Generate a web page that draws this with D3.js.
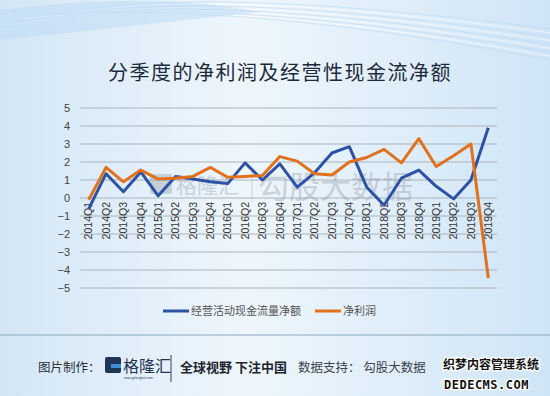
<!DOCTYPE html>
<html lang="zh">
<head>
<meta charset="UTF-8">
<title>分季度的净利润及经营性现金流净额</title>
<script src="https://d3js.org/d3.v7.min.js"></script>
<style>
  body { margin: 0; padding: 0; }
  svg text { font-family: "Noto Sans CJK SC", "Noto Sans", sans-serif; }
</style>
</head>
<body>
<div id="chart"></div>
<script>
// quarters on the category axis
const quarters = [
  "2014Q1", "2014Q2", "2014Q3", "2014Q4",
  "2015Q1", "2015Q2", "2015Q3", "2015Q4",
  "2016Q1", "2016Q2", "2016Q3", "2016Q4",
  "2017Q1", "2017Q2", "2017Q3", "2017Q4",
  "2018Q1", "2018Q2", "2018Q3", "2018Q4",
  "2019Q1", "2019Q2", "2019Q3", "2019Q4"
];
// 经营活动现金流量净额
const cashFlow = [
  -0.6, 1.35, 0.35, 1.45,
  0.12, 1.2, 1.05, 0.9,
  0.8, 1.95, 1.0, 1.9,
  0.6, 1.4, 2.5, 2.85,
  0.6, -0.4, 1.1, 1.55,
  0.65, -0.05, 1.0, 3.9
];
// 净利润
const netProfit = [
  -0.1, 1.7, 0.9, 1.55,
  1.05, 1.1, 1.2, 1.7,
  1.15, 1.2, 1.25, 2.3,
  2.05, 1.35, 1.28, 2.0,
  2.25, 2.7, 1.95, 3.3,
  1.75, 2.35, 3.0, -4.45
];
const yTicks = [5, 4, 3, 2, 1, 0, -1, -2, -3, -4, -5];

const W = 550, H = 396;
const svg = d3.select("#chart").append("svg")
  .attr("width", W).attr("height", H);

// background
const defs = svg.append("defs");
const bg = defs.append("linearGradient").attr("id", "bg")
  .attr("x1", "0").attr("y1", "0").attr("x2", "1").attr("y2", "0");
bg.append("stop").attr("offset", "0%").attr("stop-color", "#d3e6f6");
bg.append("stop").attr("offset", "45%").attr("stop-color", "#eef6fc");
bg.append("stop").attr("offset", "100%").attr("stop-color", "#cfe5f7");
svg.append("rect").attr("width", W).attr("height", H).attr("fill", "url(#bg)");

// decorative swooshes at the top
const swoosh = svg.append("g").attr("fill", "none");
for (let i = 0; i < 9; i++) {
  swoosh.append("path")
    .attr("d", `M${-20 + i * 6},${40 - i * 3} C${80 + i * 10},${-10 + i * 2} ${260 + i * 8},${-8 + i * 3} ${560},${30 + i * 4}`)
    .attr("stroke", i % 2 ? "#ffffff" : "#b9d8f2")
    .attr("stroke-width", 1)
    .attr("opacity", 0.6);
}
svg.append("path")
  .attr("d", "M0,10 C120,-5 200,0 260,12 L0,40 Z")
  .attr("fill", "#bcdaf3").attr("opacity", 0.5);

// title
svg.append("text")
  .attr("x", 280).attr("y", 80)
  .attr("text-anchor", "middle")
  .style("font-size", "20px")
  .style("letter-spacing", "1.5px")
  .style("fill", "#1d2a3a")
  .text("分季度的净利润及经营性现金流净额");

const margin = { left: 80, right: 53, top: 108, bottom: 108 };
const x = d3.scaleBand().domain(quarters).range([margin.left, W - margin.right]);
const y = d3.scaleLinear().domain([-5, 5]).range([288, 108]);

// gridlines
svg.append("g")
  .selectAll("line").data(yTicks).join("line")
  .attr("x1", margin.left).attr("x2", W - margin.right)
  .attr("y1", d => y(d)).attr("y2", d => y(d))
  .attr("stroke", "#aab3bc").attr("stroke-width", 1.2);

// y axis labels
const yAxis = svg.append("g")
  .attr("transform", `translate(${margin.left},0)`)
  .call(d3.axisLeft(y).tickValues(yTicks).tickSize(0).tickPadding(10).tickFormat(d3.format("d")));
yAxis.select(".domain").remove();
yAxis.selectAll("text")
  .style("font-family", "'Liberation Sans', Arial, sans-serif")
  .style("font-size", "11px")
  .style("fill", "#444");

// watermark in the plot
const wm = svg.append("g").attr("opacity", 0.35);
wm.append("rect").attr("x", 150).attr("y", 174).attr("width", 22).attr("height", 20)
  .attr("rx", 2).attr("fill", "#8a939c");
wm.append("text").attr("x", 176).attr("y", 193)
  .style("font-size", "21px").style("fill", "#8a939c").text("格隆汇");
wm.append("line").attr("x1", 252).attr("x2", 252).attr("y1", 170).attr("y2", 202)
  .attr("stroke", "#8a939c").attr("stroke-width", 1);
wm.append("text").attr("x", 258).attr("y", 198)
  .style("font-size", "31px").style("fill", "#8a939c").text("勾股大数据");

// category labels, rotated
const xAxis = svg.append("g")
  .attr("transform", `translate(0,${y(0)})`)
  .call(d3.axisBottom(x).tickSize(0).tickPadding(0));
xAxis.select(".domain").remove();
xAxis.selectAll("text")
  .attr("transform", "rotate(-90)")
  .attr("x", -4).attr("y", 0).attr("dy", "0.35em")
  .style("text-anchor", "end")
  .style("font-family", "'Liberation Sans', Arial, sans-serif")
  .style("font-size", "10.5px")
  .style("fill", "#333");

// lines
const line = d3.line()
  .x((d, i) => x(quarters[i]) + x.bandwidth() / 2)
  .y(d => y(d));

svg.append("path").datum(cashFlow)
  .attr("d", line).attr("fill", "none")
  .attr("stroke", "#2e52a3").attr("stroke-width", 3)
  .attr("stroke-linejoin", "round");
svg.append("path").datum(netProfit)
  .attr("d", line).attr("fill", "none")
  .attr("stroke", "#e2711d").attr("stroke-width", 3)
  .attr("stroke-linejoin", "round");

// legend
const legend = [
  { name: "经营活动现金流量净额", color: "#2e52a3", x: 163 },
  { name: "净利润", color: "#e2711d", x: 315 }
];
const lg = svg.append("g").selectAll("g").data(legend).join("g")
  .attr("transform", d => `translate(${d.x},311)`);
lg.append("line").attr("x1", 0).attr("x2", 26)
  .attr("stroke", d => d.color).attr("stroke-width", 3);
lg.append("text").attr("x", 28).attr("dy", "0.35em")
  .style("font-size", "11px").style("fill", "#555")
  .text(d => d.name);

// divider
svg.append("line").attr("x1", 0).attr("x2", W).attr("y1", 335).attr("y2", 335)
  .attr("stroke", "#8ea6bd").attr("stroke-width", 1);

// footer
const ft = svg.append("g");
ft.append("text").attr("x", 38).attr("y", 372)
  .style("font-size", "12.5px").style("fill", "#2a2f36").text("图片制作：");
ft.append("rect").attr("x", 105).attr("y", 357).attr("width", 16).attr("height", 16)
  .attr("rx", 2).attr("fill", "#1e3553");
ft.append("rect").attr("x", 111).attr("y", 364).attr("width", 10).attr("height", 4)
  .attr("fill", "#3f8fd8");
ft.append("text").attr("x", 123).attr("y", 372)
  .style("font-size", "16px").style("fill", "#1e3553").text("格隆汇");
ft.append("text").attr("x", 124).attr("y", 379)
  .style("font-size", "3px").style("fill", "#1e3553").text("www.gelonghui.com");
ft.append("line").attr("x1", 171).attr("x2", 171).attr("y1", 355).attr("y2", 382)
  .attr("stroke", "#3a4553").attr("stroke-width", 1);
ft.append("text").attr("x", 180).attr("y", 372)
  .style("font-size", "13px").style("font-weight", "bold").style("fill", "#1e2530")
  .text("全球视野 下注中国");
ft.append("text").attr("x", 298).attr("y", 372)
  .style("font-size", "12.5px").style("fill", "#3b4350")
  .text("数据支持：  勾股大数据");

// site watermark bottom-right
ft.append("text").attr("x", 443).attr("y", 369)
  .style("font-size", "12px").style("font-weight", "bold")
  .style("fill", "#111").style("stroke", "#fff").style("stroke-width", 2.5)
  .style("paint-order", "stroke")
  .text("织梦内容管理系统");
ft.append("text").attr("x", 444).attr("y", 389)
  .style("font-family", "'DejaVu Sans Mono', monospace")
  .style("font-size", "12px").style("font-weight", "bold")
  .style("letter-spacing", "0.5px")
  .style("fill", "#111").style("stroke", "#fff").style("stroke-width", 2.5)
  .style("paint-order", "stroke")
  .text("DEDECMS.COM");
</script>
</body>
</html>
